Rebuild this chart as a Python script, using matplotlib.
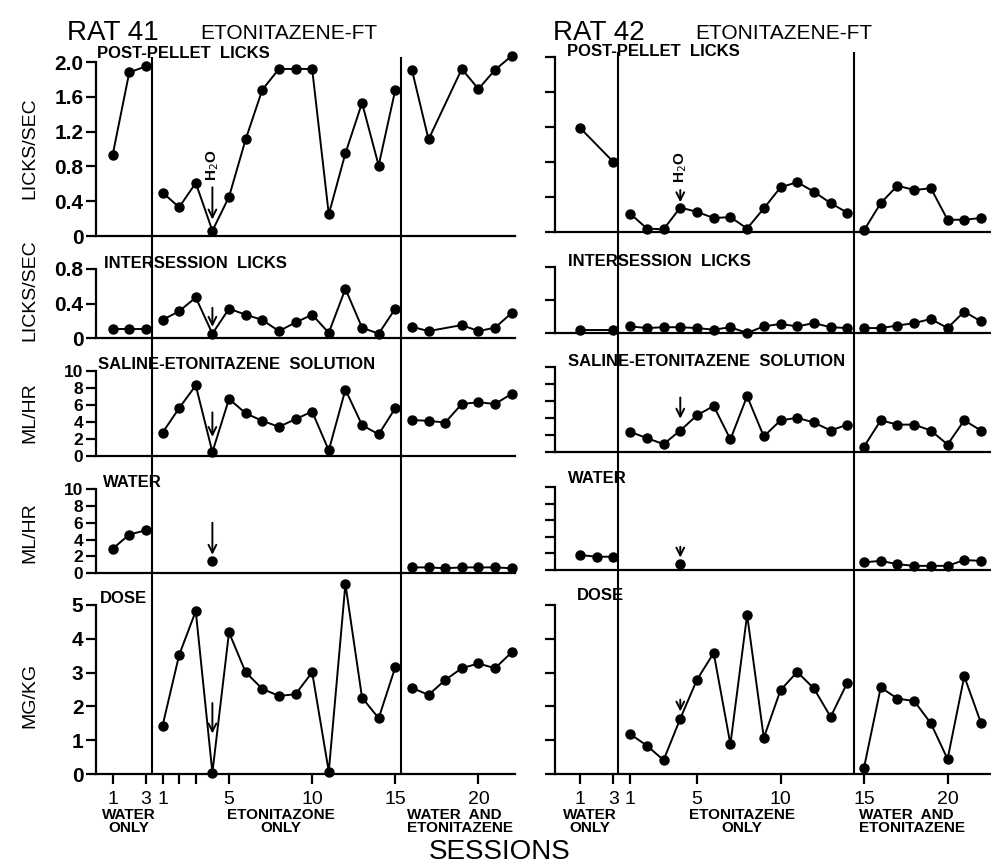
import matplotlib
matplotlib.use("Agg")
import matplotlib.pyplot as plt

W, H = 991, 865
plt.rcParams['font.family'] = ['Liberation Sans', 'DejaVu Sans']

# session numbers inside each phase
water_sessions = [1, 2, 3]
r41_eto_sessions = list(range(1, 16))
r41_mix_sessions = list(range(16, 23))
r41_mix_lick_sessions = [16, 17, 19, 20, 21, 22]
r42_eto_sessions = list(range(1, 15))
r42_mix_sessions = list(range(15, 23))
r42_water_lick_sessions = [1, 3]
h2o_session = 4

# rat 41
r41_pellet_water = [0.93, 1.88, 1.95]
r41_pellet_eto = [0.50, 0.33, 0.61, 0.06, 0.45, 1.11, 1.68, 1.92, 1.92, 1.92,
                  0.25, 0.95, 1.53, 0.81, 1.68]
r41_pellet_mix = [1.91, 1.11, 1.92, 1.69, 1.91, 2.07]
r41_inter_water = [0.10, 0.10, 0.10]
r41_inter_eto = [0.21, 0.31, 0.47, 0.05, 0.34, 0.27, 0.21, 0.08, 0.18, 0.27,
                 0.06, 0.57, 0.12, 0.05, 0.34]
r41_inter_mix = [0.13, 0.08, 0.15, 0.08, 0.12, 0.29]
r41_saline_eto = [2.7, 5.6, 8.3, 0.4, 6.7, 5.0, 4.1, 3.4, 4.3, 5.2,
                  0.6, 7.8, 3.6, 2.5, 5.6]
r41_saline_mix = [4.2, 4.1, 3.9, 6.1, 6.3, 6.1, 7.3]
r41_water_water = [2.9, 4.6, 5.1]
r41_water_h2o = [1.5]
r41_water_mix = [0.7, 0.7, 0.6, 0.7, 0.7, 0.7, 0.6]
r41_dose_eto = [1.42, 3.52, 4.82, 0.04, 4.19, 3.01, 2.52, 2.31, 2.36, 3.01,
                0.07, 5.62, 2.26, 1.65, 3.16]
r41_dose_mix = [2.55, 2.34, 2.78, 3.13, 3.27, 3.13, 3.60]

# rat 42
r42_pellet_water = [1.19, 0.80]
r42_pellet_eto = [0.21, 0.04, 0.03, 0.28, 0.23, 0.16, 0.17, 0.04, 0.27, 0.51,
                  0.57, 0.46, 0.33, 0.22]
r42_pellet_mix = [0.02, 0.33, 0.53, 0.48, 0.50, 0.14, 0.14, 0.16]
r42_inter_water = [0.04, 0.04]
r42_inter_eto = [0.08, 0.06, 0.07, 0.07, 0.06, 0.04, 0.07, 0.0, 0.08, 0.11,
                 0.08, 0.12, 0.07, 0.06]
r42_inter_mix = [0.06, 0.06, 0.09, 0.12, 0.17, 0.06, 0.26, 0.14]
r42_saline_eto = [2.35, 1.6, 0.9, 2.5, 4.3, 5.4, 1.45, 6.55, 1.8, 3.7,
                  4.0, 3.45, 2.5, 3.2]
r42_saline_mix = [0.6, 3.7, 3.2, 3.2, 2.5, 0.85, 3.7, 2.5]
r42_water_water = [1.8, 1.6, 1.6]
r42_water_h2o = [0.7]
r42_water_mix = [0.93, 1.1, 0.7, 0.5, 0.5, 0.5, 1.2, 1.1]
r42_dose_eto = [1.18, 0.84, 0.41, 1.64, 2.79, 3.58, 0.88, 4.71, 1.07, 2.48,
                3.02, 2.53, 1.69, 2.70]
r42_dose_mix = [0.19, 2.56, 2.23, 2.16, 1.50, 0.44, 2.89, 1.51]


def wpos(sessions):
    # water-only sessions sit at 1..3 on the running axis
    return list(sessions)


def epos(sessions):
    # drug sessions follow the three water sessions
    return [s + 3 for s in sessions]


fig = plt.figure(figsize=(W / 100, H / 100), dpi=100)


def add_axes_px(left, right, y0, y1):
    return fig.add_axes([left / W, 1 - y0 / H, (right - left) / W, (y0 - y1) / H])


def ftext(x, y, s, **kw):
    fig.text(x / W, 1 - y / H, s, **kw)


def panel(ax, xlim, ylim, yticks, ylabels, series, labelsize=15):
    ax.set_xlim(*xlim)
    ax.set_ylim(*ylim)
    ax.patch.set_visible(False)
    for sp in ('top', 'right'):
        ax.spines[sp].set_visible(False)
    for sp in ('left', 'bottom'):
        ax.spines[sp].set_linewidth(1.6)
    ax.set_yticks(yticks)
    if ylabels is None:
        ax.tick_params(axis='y', labelleft=False)
    else:
        ax.set_yticklabels(ylabels, fontweight='bold')
    ax.tick_params(axis='y', direction='out', length=7, width=1.6, pad=2,
                   labelsize=labelsize)
    ax.set_xticks([])
    for xs, ys in series:
        ax.plot(xs, ys, '-o', color='black', lw=1.4, ms=6.5, clip_on=False)


def arrow(ax, x, tail, tip):
    ax.annotate('', xy=(x, tip), xytext=(x, tail),
                arrowprops=dict(arrowstyle='->', lw=1.4, color='black',
                                mutation_scale=14, shrinkA=0, shrinkB=0))


lick_ticks = [0, 0.4, 0.8, 1.2, 1.6, 2.0]
lick_labels = ['0', '0.4', '0.8', '1.2', '1.6', '2.0']
ml_ticks = [0, 2, 4, 6, 8, 10]
dose_ticks = [0, 1, 2, 3, 4, 5]

columns = [
    dict(left=96, right=515, xlim=(0, 25.2), labels=True,
         rows=[(236, 62), (338, 269), (455.5, 371), (573.3, 489), (774, 605)],
         div=[3.35, 18.35], div_top=57,
         pellet=[(wpos(water_sessions), r41_pellet_water),
                 (epos(r41_eto_sessions), r41_pellet_eto),
                 (epos(r41_mix_lick_sessions), r41_pellet_mix)],
         inter=[(wpos(water_sessions), r41_inter_water),
                (epos(r41_eto_sessions), r41_inter_eto),
                (epos(r41_mix_lick_sessions), r41_inter_mix)],
         saline=[(epos(r41_eto_sessions), r41_saline_eto),
                 (epos(r41_mix_sessions), r41_saline_mix)],
         water=[(wpos(water_sessions), r41_water_water),
                (epos([h2o_session]), r41_water_h2o),
                (epos(r41_mix_sessions), r41_water_mix)],
         dose=[(epos(r41_eto_sessions), r41_dose_eto),
               (epos(r41_mix_sessions), r41_dose_mix)],
         arrows=[(0.56, 0.19), (0.35, 0.13), (5.1, 2.2), (6.0, 2.2), (2.1, 1.2)],
         h2o_y=0.81,
         xticks=[1, 3, 4, 5, 6, 8, 13, 18, 23],
         xticklabels=['1', '3', '1', '', '', '5', '10', '15', '20'],
         phases=[(2.0, 'WATER\nONLY', 'center'),
                 (11.1, 'ETONITAZONE\nONLY', 'center'),
                 (18.7, 'WATER  AND\nETONITAZENE', 'left')],
         title=(67, 'RAT 41', 200), tx=[97, 104, 98, 103, 100],
         ty=[58, 268, 369, 487, 603]),
    dict(left=555, right=991, xlim=(-0.5, 25.6), labels=False,
         rows=[(232, 57), (333, 267), (451.7, 367), (570, 487), (774, 605)],
         div=[3.3, 17.4], div_top=52,
         pellet=[(wpos(r42_water_lick_sessions), r42_pellet_water),
                 (epos(r42_eto_sessions), r42_pellet_eto),
                 (epos(r42_mix_sessions), r42_pellet_mix)],
         inter=[(wpos(r42_water_lick_sessions), r42_inter_water),
                (epos(r42_eto_sessions), r42_inter_eto),
                (epos(r42_mix_sessions), r42_inter_mix)],
         saline=[(epos(r42_eto_sessions), r42_saline_eto),
                 (epos(r42_mix_sessions), r42_saline_mix)],
         water=[(wpos(water_sessions), r42_water_water),
                (epos([h2o_session]), r42_water_h2o),
                (epos(r42_mix_sessions), r42_water_mix)],
         dose=[(epos(r42_eto_sessions), r42_dose_eto),
               (epos(r42_mix_sessions), r42_dose_mix)],
         arrows=[(0.48, 0.34), None, (6.4, 3.9), (2.8, 1.5), (2.2, 1.85)],
         h2o_y=0.74,
         xticks=[1, 3, 4, 8, 13, 18, 23],
         xticklabels=['1', '3', '1', '5', '10', '15', '20'],
         phases=[(1.6, 'WATER\nONLY', 'center'),
                 (10.7, 'ETONITAZENE\nONLY', 'center'),
                 (17.7, 'WATER  AND\nETONITAZENE', 'left')],
         title=(553, 'RAT 42', 695), tx=[567, 568, 568, 568, 577],
         ty=[56, 266, 366, 483, 600]),
]

panel_names = ['POST-PELLET  LICKS', 'INTERSESSION  LICKS',
               'SALINE-ETONITAZENE  SOLUTION', 'WATER', 'DOSE']

for col in columns:
    axes = [add_axes_px(col['left'], col['right'], y0, y1) for y0, y1 in col['rows']]
    lab = col['labels']
    panel(axes[0], col['xlim'], (0, 2.0), lick_ticks, lick_labels if lab else None,
          col['pellet'])
    panel(axes[1], col['xlim'], (0, 0.8), lick_ticks[:3], lick_labels[:3] if lab else None,
          col['inter'])
    panel(axes[2], col['xlim'], (0, 10), ml_ticks,
          [str(t) for t in ml_ticks] if lab else None, col['saline'], labelsize=12.5)
    panel(axes[3], col['xlim'], (0, 10), ml_ticks,
          [str(t) for t in ml_ticks] if lab else None, col['water'], labelsize=12.5)
    panel(axes[4], col['xlim'], (0, 5), dose_ticks,
          [str(t) for t in dose_ticks] if lab else None, col['dose'], labelsize=15)

    # session axis on the dose panel
    ax5 = axes[4]
    ax5.set_xticks(col['xticks'])
    ax5.set_xticklabels(col['xticklabels'])
    ax5.tick_params(axis='x', direction='out', length=7, width=1.6, pad=5,
                    labelsize=14)
    for x, s, ha in col['phases']:
        ax5.text(x, -0.2, s, transform=ax5.get_xaxis_transform(), ha=ha, va='top',
                 fontsize=11, fontweight='bold', linespacing=0.95)

    # arrows marking the water-substitution session
    hx = epos([h2o_session])[0]
    for ax, arr in zip(axes, col['arrows']):
        if arr is not None:
            arrow(ax, hx, arr[0], arr[1])
    axes[0].text(hx, col['h2o_y'], 'H$_2$O', rotation=90, ha='center', va='center',
                 fontsize=11, fontweight='bold')

    # phase dividers run through all five panels
    top = col['div_top']
    ov = add_axes_px(col['left'], col['right'], 774, top)
    ov.set_xlim(*col['xlim'])
    ov.set_ylim(0, 1)
    ov.axis('off')
    for x in col['div']:
        ov.axvline(x, color='black', lw=1.5)

    tl, tname, te = col['title']
    ftext(tl, 40, tname, fontsize=20, va='baseline')
    ftext(te, 39, 'ETONITAZENE-FT', fontsize=15, va='baseline')
    for name, x, y in zip(panel_names, col['tx'], col['ty']):
        ftext(x, y, name, fontsize=12, fontweight='bold', va='baseline')

for y, s in [(148, 'LICKS/SEC'), (290, 'LICKS/SEC'), (413, 'ML/HR'),
             (533, 'ML/HR'), (695, 'MG/KG')]:
    ftext(30, y, s, rotation=90, ha='center', va='center', fontsize=14)

ftext(500, 859, 'SESSIONS', ha='center', va='baseline', fontsize=20)

fig.savefig('out.png', dpi=100)
